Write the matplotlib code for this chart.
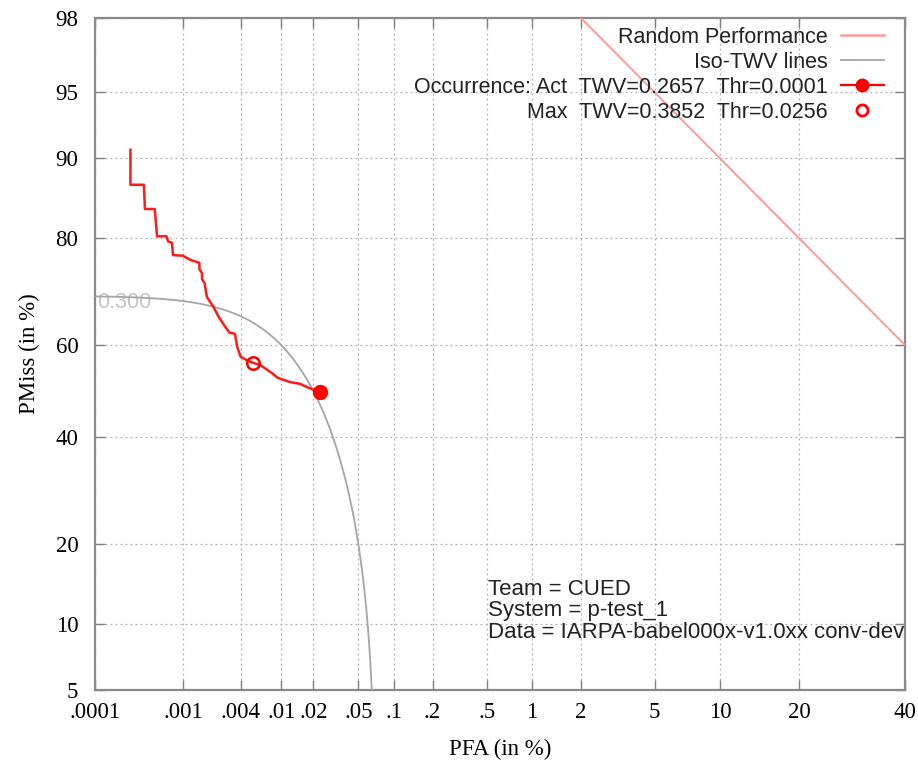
import math
import numpy as np
import matplotlib
matplotlib.use("Agg")
import matplotlib.pyplot as plt
from matplotlib.lines import Line2D

# ---------------- data (all in %) ----------------
det_pfa = [0.00026, 0.00026, 0.00037, 0.00038, 0.00049, 0.00052, 0.00066, 0.00069,
           0.00076, 0.00078, 0.0010, 0.0012, 0.0015, 0.0015, 0.0016, 0.0016, 0.0017,
           0.0018, 0.0021, 0.0024, 0.0028, 0.0031, 0.0035, 0.0036, 0.0037, 0.0040,
           0.0046, 0.0053, 0.0063, 0.0073, 0.0081, 0.0093, 0.0121, 0.0151, 0.0174, 0.0230]
det_pmiss = [90.8, 87.2, 87.2, 84.2, 84.2, 80.3, 80.3, 79.5,
             79.3, 77.3, 77.2, 76.5, 76.0, 74.9, 74.2, 73.1, 72.4,
             69.8, 67.9, 65.8, 63.8, 62.6, 62.4, 61.0, 59.6, 57.5,
             56.8, 56.2, 55.7, 54.7, 54.0, 52.9, 52.0, 51.6, 50.9, 49.8]

act_pfa, act_pmiss = [0.0230], [49.8]
max_pfa, max_pmiss = [0.0053], [56.2]

random_pfa = [2.0, 40.0]
random_pmiss = [98.0, 60.0]

iso_twv = 0.300
beta = 999.9

xticks = [0.0001, 0.001, 0.004, 0.01, 0.02, 0.05, 0.1, 0.2, 0.5, 1, 2, 5, 10, 20, 40]
xlabels = ['.0001', '.001', '.004', '.01', '.02', '.05', '.1', '.2', '.5', '1', '2', '5', '10', '20', '40']
yticks = [5, 10, 20, 40, 60, 80, 90, 95, 98]
ylabels = ['5', '10', '20', '40', '60', '80', '90', '95', '98']

legend_labels = ["Random Performance", "Iso-TWV lines",
                 "Occurrence: Act  TWV=0.2657  Thr=0.0001",
                 "Max  TWV=0.3852  Thr=0.0256"]
info_lines = ["Team = CUED", "System = p-test_1", "Data = IARPA-babel000x-v1.0xx conv-dev"]

# ---------------- probit scale ----------------
_a = [-3.969683028665376e+01, 2.209460984245205e+02, -2.759285104469687e+02,
      1.383577518672690e+02, -3.066479806614716e+01, 2.506628277459239e+00]
_b = [-5.447609879822406e+01, 1.615858368580409e+02, -1.556989798598866e+02,
      6.680131188771972e+01, -1.328068155288572e+01]
_c = [-7.784894002430293e-03, -3.223964580411365e-01, -2.400758277161838e+00,
      -2.549732539343734e+00, 4.374664141464968e+00, 2.938163982698783e+00]
_d = [7.784695709041462e-03, 3.224671290700398e-01, 2.445134137142996e+00,
      3.754408661907416e+00]


def _ppf(p):
    p = np.asarray(p, dtype=float)
    shape = p.shape
    p = np.clip(np.atleast_1d(p).ravel(), 1e-12, 1 - 1e-12)
    x = np.empty_like(p)
    plow = 0.02425
    lo = p < plow
    hi = p > 1 - plow
    mid = ~lo & ~hi
    q = np.sqrt(-2 * np.log(p[lo]))
    x[lo] = (((((_c[0]*q+_c[1])*q+_c[2])*q+_c[3])*q+_c[4])*q+_c[5]) / \
            ((((_d[0]*q+_d[1])*q+_d[2])*q+_d[3])*q+1)
    q = np.sqrt(-2 * np.log(1 - p[hi]))
    x[hi] = -(((((_c[0]*q+_c[1])*q+_c[2])*q+_c[3])*q+_c[4])*q+_c[5]) / \
             ((((_d[0]*q+_d[1])*q+_d[2])*q+_d[3])*q+1)
    q = p[mid] - 0.5
    r = q * q
    x[mid] = (((((_a[0]*r+_a[1])*r+_a[2])*r+_a[3])*r+_a[4])*r+_a[5])*q / \
             (((((_b[0]*r+_b[1])*r+_b[2])*r+_b[3])*r+_b[4])*r+1)
    return x.reshape(shape)


_erfc = np.vectorize(math.erfc, otypes=[float])


def fwd(v):
    return _ppf(np.asarray(v, dtype=float) / 100.0)


def inv(z):
    z = np.asarray(z, dtype=float)
    return 100.0 * 0.5 * _erfc(-z / math.sqrt(2.0))


# ---------------- figure ----------------
W, H = 918, 761
fig = plt.figure(figsize=(W / 100, H / 100), dpi=100)
fig.subplots_adjust(left=95 / W, right=905 / W, top=1 - 18 / H, bottom=1 - 690 / H)
ax = fig.add_subplot(111)
ax.set_xscale('function', functions=(fwd, inv))
ax.set_yscale('function', functions=(fwd, inv))
ax.set_xlim(0.0001, 40)
ax.set_ylim(5, 98)

serif = ['Liberation Serif', 'DejaVu Serif']
sans = ['Liberation Sans', 'DejaVu Sans']
fs = 15.5
fs_ax = 16.5

ax.set_xticks(xticks)
ax.set_xticklabels(xlabels, family=serif, fontsize=fs_ax)
ax.set_yticks(yticks)
ax.set_yticklabels(ylabels, family=serif, fontsize=fs_ax)
ax.minorticks_off()
ax.tick_params(direction='in', length=7, width=1, color='#808080',
               top=True, right=True)
ax.tick_params(axis='x', pad=9)
ax.tick_params(axis='y', pad=12)
ax.grid(True, color='#b0b0b0', linestyle=(0, (1.5, 2.5)), linewidth=0.9)
for s in ax.spines.values():
    s.set_color('#8a8a8a')
    s.set_linewidth(1.6)

ax.set_xlabel('PFA (in %)', family=serif, fontsize=fs_ax, labelpad=11)
ax.set_ylabel('PMiss (in %)', family=serif, fontsize=fs_ax, labelpad=11)

# random performance
ax.plot(random_pfa, random_pmiss, color='#ff9a9a', lw=1.4, zorder=3)

# iso TWV line
iso_pfa = np.concatenate([np.geomspace(0.0001, 0.05, 300), np.linspace(0.05, 0.0675, 200)[1:]])
iso_pmiss = (1 - iso_twv - beta * iso_pfa / 100.0) * 100.0
ax.plot(iso_pfa, iso_pmiss, color='#a6a6a6', lw=1.3, zorder=3)
ax.annotate('%.3f' % iso_twv, xy=(0.003, 100 * (1 - iso_twv)), xycoords=ax.get_yaxis_transform(),
            xytext=(0, -5), textcoords='offset points',
            family=sans, fontsize=fs, color='#c4c4c4', ha='left', va='center', zorder=2)

# DET curve
ax.plot(det_pfa, det_pmiss, color='#ff1a1a', lw=1.8, zorder=4)
ax.plot(act_pfa, act_pmiss, 'o', color='#ff0000', ms=10, zorder=5)
ax.plot(max_pfa, max_pmiss, 'o', mfc='none', mec='#ff0000', mew=1.8, ms=9, zorder=5)

# legend
handles = [Line2D([], [], color='#ff9a9a', lw=1.8),
           Line2D([], [], color='#a6a6a6', lw=1.3),
           Line2D([], [], color='#ff0000', lw=1.6, marker='o', ms=9),
           Line2D([], [], color='none', marker='o', mfc='none', mec='#ff0000', mew=2, ms=8)]
leg = ax.legend(handles, legend_labels, loc='upper right', markerfirst=False,
                bbox_to_anchor=(884 / W, 1 - 27 / H), bbox_transform=fig.transFigure,
                frameon=False, borderpad=0, borderaxespad=0, handlelength=2.0,
                handletextpad=0.6, labelspacing=0.18, prop={'family': sans, 'size': fs})
for t in leg.get_texts():
    t.set_color('#222222')

# info text
info_y = [0.150, 0.118, 0.086]
for yy, s in zip(info_y, info_lines):
    ax.text(0.485, yy, s, transform=ax.transAxes, family=sans, fontsize=16,
            color='#222222', ha='left', va='center')

fig.savefig('out.png', dpi=100)
